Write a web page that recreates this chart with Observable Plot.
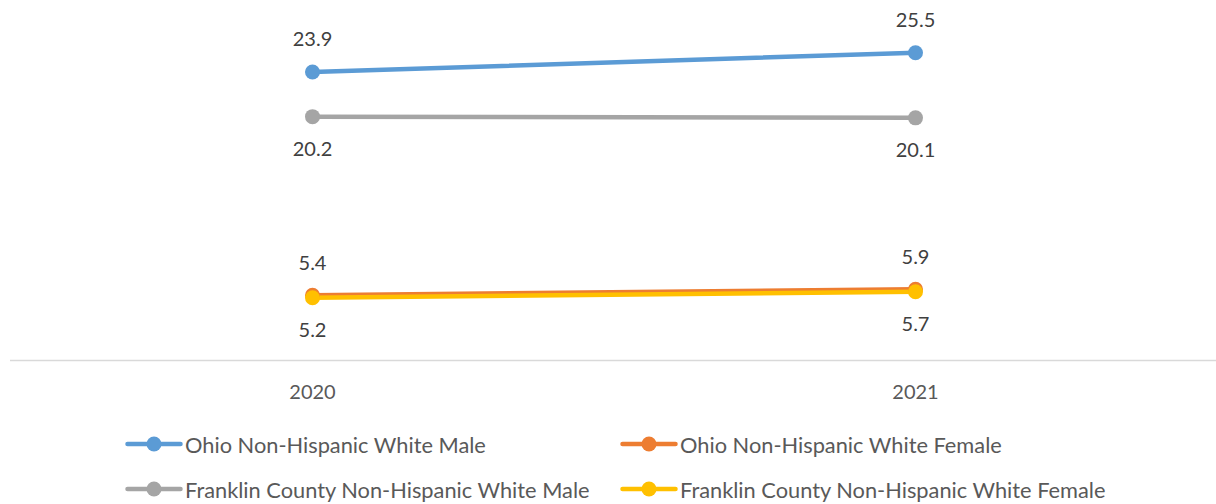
<!DOCTYPE html>
<html>
<head>
<meta charset="utf-8">
<script src="https://cdn.jsdelivr.net/npm/d3@7"></script>
<script src="https://cdn.jsdelivr.net/npm/@observablehq/plot@0.6"></script>
<style>
  html, body { margin: 0; padding: 0; background: #fff; }
  body { width: 1216px; height: 504px; overflow: hidden; font-family: Lato, "Open Sans", sans-serif; }
  #chart svg { display: block; }
  #legend { position: relative; height: 89px; }
  .item { position: absolute; display: flex; align-items: center; height: 24px; font-size: 21.8px; color: #595959; white-space: nowrap; }
  .item svg { margin-right: 2px; }
</style>
</head>
<body>
<div id="chart"></div>
<div id="legend"></div>
<script>
const years = ["2020", "2021"];
const seriesNames = [
  "Ohio Non-Hispanic White Male",
  "Ohio Non-Hispanic White Female",
  "Franklin County Non-Hispanic White Male",
  "Franklin County Non-Hispanic White Female"
];
const ohioMale = [23.9, 25.5];
const ohioFemale = [5.4, 5.9];
const franklinMale = [20.2, 20.1];
const franklinFemale = [5.2, 5.7];
const seriesColors = ["#5B9BD5", "#ED7D31", "#A5A5A5", "#FFC000"];
const labelAbove = [true, true, false, false];

const seriesValues = [ohioMale, ohioFemale, franklinMale, franklinFemale];
const data = [];
seriesNames.forEach((name, i) => {
  years.forEach((yr, j) => {
    data.push({series: name, year: yr, value: seriesValues[i][j], above: labelAbove[i]});
  });
});

const W = 1216, H = 415;
const chart = Plot.plot({
  width: W,
  height: H,
  marginLeft: 10,
  marginRight: 0,
  marginTop: 22,
  marginBottom: 55,
  style: {fontFamily: "Lato, 'Open Sans', sans-serif", fontSize: "20px", color: "#595959", background: "#fff"},
  x: {type: "point", domain: years, padding: 0.5, label: null, tickSize: 0, tickPadding: 24},
  y: {domain: [0, 28], axis: null},
  color: {domain: seriesNames, range: seriesColors},
  marks: [
    Plot.ruleY([0], {stroke: "#d9d9d9", strokeWidth: 1.5}),
    ...seriesNames.map(name => Plot.line(data.filter(d => d.series === name), {
      x: "year", y: "value", stroke: seriesColors[seriesNames.indexOf(name)], strokeWidth: 4.5, strokeLinecap: "round"
    })),
    ...seriesNames.map(name => Plot.dot(data.filter(d => d.series === name), {
      x: "year", y: "value", r: 7.5, fill: seriesColors[seriesNames.indexOf(name)], stroke: "none"
    })),
    Plot.text(data.filter(d => d.above), {x: "year", y: "value", text: d => d.value.toFixed(1), dy: -32, fill: "#404040", fontSize: 20}),
    Plot.text(data.filter(d => !d.above), {x: "year", y: "value", text: d => d.value.toFixed(1), dy: 33, fill: "#404040", fontSize: 20})
  ]
});
document.getElementById("chart").appendChild(chart);

// Legend (2 columns, row-major)
const legend = document.getElementById("legend");
const colX = [125, 620];
const rowY = [29, 74];
seriesNames.forEach((name, i) => {
  const div = document.createElement("div");
  div.className = "item";
  div.style.left = colX[i % 2] + "px";
  div.style.top = (rowY[Math.floor(i / 2)] - 12) + "px";
  const c = seriesColors[i];
  div.innerHTML = `<svg width="58" height="24"><line x1="2.5" y1="12" x2="55.5" y2="12" stroke="${c}" stroke-width="4.5" stroke-linecap="round"/><circle cx="29" cy="12" r="7.5" fill="${c}"/></svg><span>${name}</span>`;
  legend.appendChild(div);
});
</script>
</body>
</html>
